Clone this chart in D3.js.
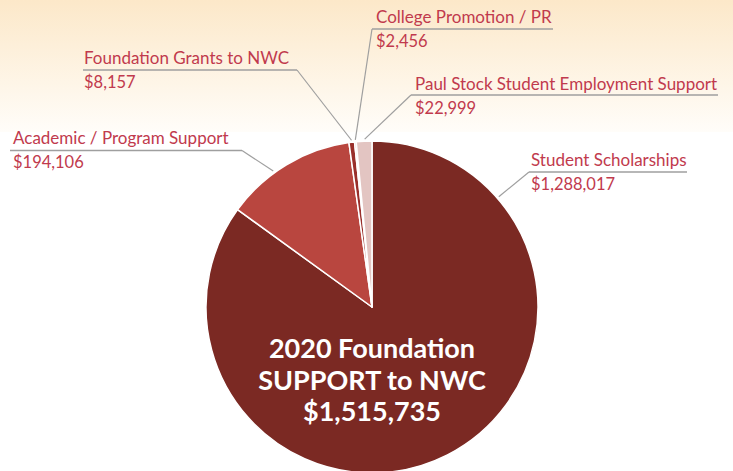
<!DOCTYPE html>
<html>
<head>
<meta charset="utf-8">
<script src="https://cdn.jsdelivr.net/npm/d3@7"></script>
<style>
  html, body { margin: 0; padding: 0; background: #fff; }
  svg { display: block; }
</style>
</head>
<body>
<div id="chart"></div>
<script>
// Data
const categories = [
    "Student Scholarships",
    "Academic / Program Support",
    "Foundation Grants to NWC",
    "College Promotion / PR",
    "Paul Stock Student Employment Support"
];
const amounts = [1288017, 194106, 8157, 2456, 22999];
const titleLines = ["2020 Foundation", "SUPPORT to NWC"];

// Styles
const sliceColors = ["#7b2923", "#b9463f", "#992f2b", "#d4958f", "#e3c5c2"];
const textColor = "#c13a4d";

// Label placement: text start, name baseline, underline y, underline ends, leader start, leader target angle (deg)
const labelLayout = [
    { x: 531, y: 166, uy: 172, u0: 529, u1: 687, lx: 529, angle: 49 },
    { x: 13, y: 144, uy: 150.5, u0: 10, u1: 242, lx: 242, angle: 324 },
    { x: 84, y: 64, uy: 70, u0: 83, u1: 297, lx: 297, angle: 353 },
    { x: 376, y: 23, uy: 29, u0: 372, u1: 553, lx: 372, angle: 354.3 },
    { x: 415, y: 90, uy: 95, u0: 411, u1: 718, lx: 411, angle: 357.5 }
];

const width = 733;
const height = 471;
const cx = 372, cy = 307, radius = 166;

const svg = d3.select("#chart")
    .append("svg")
    .attr("width", width)
    .attr("height", height);

// Soft peach background fading to white
const defs = svg.append("defs");
const grad = defs.append("linearGradient")
    .attr("id", "bg")
    .attr("x1", 0).attr("y1", 0).attr("x2", 0).attr("y2", 1);
grad.append("stop").attr("offset", "0%").attr("stop-color", "#fce8c9");
grad.append("stop").attr("offset", "100%").attr("stop-color", "#fffdf9");

svg.append("rect").attr("width", width).attr("height", height).attr("fill", "#fff");
svg.append("rect").attr("width", width).attr("height", 132).attr("fill", "url(#bg)");

const pie = d3.pie().sort(null).value(d => d.value);
const arc = d3.arc().innerRadius(0).outerRadius(radius);

const data = categories.map((c, i) => ({ name: c, value: amounts[i] }));
const arcs = pie(data);

const g = svg.append("g").attr("transform", `translate(${cx},${cy})`);

g.selectAll("path")
    .data(arcs)
    .join("path")
    .attr("d", arc)
    .attr("fill", (d, i) => sliceColors[i])
    .attr("stroke", "#fff")
    .attr("stroke-width", 1.5)
    .attr("stroke-linejoin", "round");

const fmt = d3.format("$,");

// Labels with underline and leader line
const labels = svg.append("g")
    .selectAll("g")
    .data(arcs)
    .join("g");

labels.append("text")
    .attr("x", (d, i) => labelLayout[i].x)
    .attr("y", (d, i) => labelLayout[i].y)
    .attr("fill", textColor)
    .style("font-family", "Lato, 'Open Sans', sans-serif")
    .style("font-size", "17px")
    .text(d => d.data.name);

labels.append("text")
    .attr("x", (d, i) => labelLayout[i].x)
    .attr("y", (d, i) => labelLayout[i].y + 24)
    .attr("fill", textColor)
    .style("font-family", "Lato, 'Open Sans', sans-serif")
    .style("font-size", "16.5px")
    .text(d => fmt(d.data.value));

labels.append("line")
    .attr("x1", (d, i) => labelLayout[i].u0)
    .attr("x2", (d, i) => labelLayout[i].u1)
    .attr("y1", (d, i) => labelLayout[i].uy)
    .attr("y2", (d, i) => labelLayout[i].uy)
    .attr("stroke", "#9f9f9f")
    .attr("stroke-width", 1.5);

labels.append("line")
    .attr("x1", (d, i) => labelLayout[i].lx)
    .attr("y1", (d, i) => labelLayout[i].uy)
    .attr("x2", (d, i) => cx + (radius + 2) * Math.sin(labelLayout[i].angle * Math.PI / 180))
    .attr("y2", (d, i) => cy - (radius + 2) * Math.cos(labelLayout[i].angle * Math.PI / 180))
    .attr("stroke", "#9f9f9f")
    .attr("stroke-width", 1.2);

// Center title
const title = svg.append("text")
    .attr("x", cx)
    .attr("text-anchor", "middle")
    .attr("fill", "#fff")
    .style("font-family", "Lato, sans-serif")
    .style("font-weight", "bold")
    .style("font-size", "27px");

titleLines.concat([fmt(d3.sum(amounts))]).forEach((t, i) => {
    title.append("tspan")
        .attr("x", cx)
        .attr("y", 358 + i * 31.5)
        .text(t);
});
</script>
</body>
</html>
